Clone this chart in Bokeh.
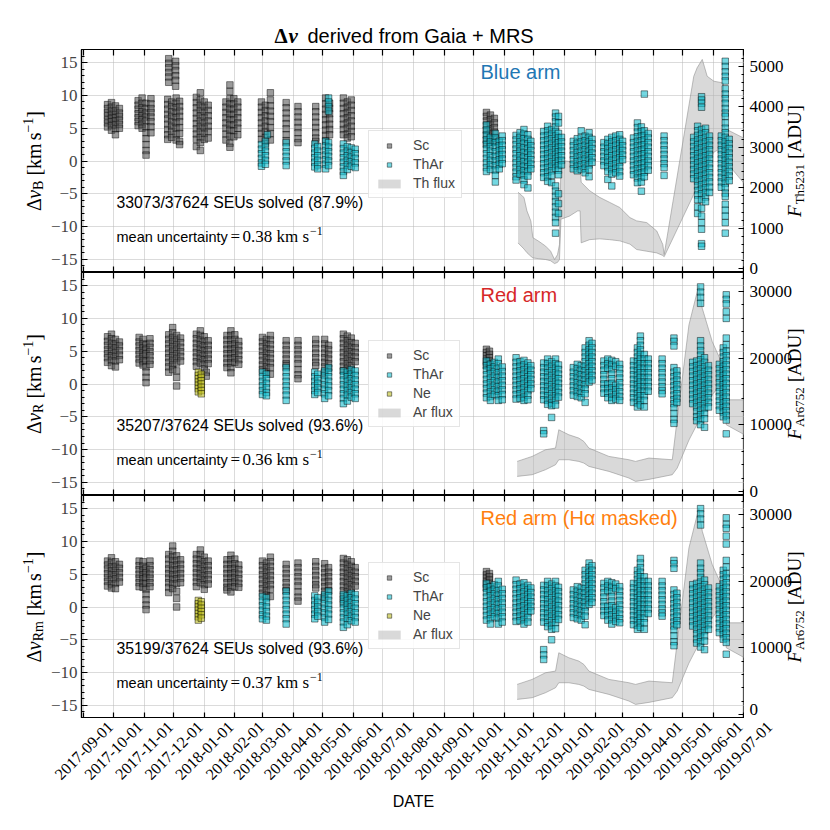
import calendar
from datetime import datetime
from math import pi
from bokeh.plotting import figure
from bokeh.layouts import column, row
from bokeh.models import Range1d, LinearAxis, FixedTicker, Label, Legend, LegendItem, Grid
from bokeh.embed import file_html
from bokeh.resources import INLINE

# ---------------- data ----------------
DAY0 = "2017-09-01"   # day offsets below are counted from this date
MONTHS = ["2017-09-01", "2017-10-01", "2017-11-01", "2017-12-01", "2018-01-01", "2018-02-01",
          "2018-03-01", "2018-04-01", "2018-05-01", "2018-06-01", "2018-07-01", "2018-08-01",
          "2018-09-01", "2018-10-01", "2018-11-01", "2018-12-01", "2019-01-01", "2019-02-01",
          "2019-03-01", "2019-04-01", "2019-05-01", "2019-06-01", "2019-07-01"]
LEFT_TICKS = [-15, -10, -5, 0, 5, 10, 15]

# ---- Blue arm ----
SC_B_DAYS = [24, 28, 32, 36, 55, 59, 63, 68, 86, 93, 85, 89, 93.5, 97, 114, 118, 122, 126,
             144, 148, 152, 156, 180, 184, 189, 205, 217, 235, 245, 249, 263, 267, 271, 408, 412, 416]
SC_B_VALS = [
    [8.6, 8.0, 7.4, 6.9, 6.3, 5.8, 5.2], [8.9, 8.2, 7.6, 7.0, 6.5, 6.0, 5.4, 4.7],
    [8.4, 7.7, 7.1, 6.6, 6.1, 5.5, 4.9, 4.0], [8.0, 7.3, 6.8, 6.2, 5.6, 5.0],
    [9.2, 8.5, 7.9, 7.2, 6.6, 6.0, 5.4], [9.6, 8.8, 8.1, 7.5, 6.9, 6.3, 5.6, 5.0],
    [8.8, 8.0, 7.3, 6.7, 6.1, 5.2, 4.3, 3.4, 2.5, 1.6, 0.9], [9.5, 8.7, 8.0, 7.4, 6.7, 6.0, 5.2, 4.3],
    [15.6, 14.9, 14.2, 13.5, 12.8, 12.0], [15.2, 14.5, 13.8, 13.0, 12.3, 11.4],
    [9.4, 8.6, 7.9, 7.1, 6.4, 5.6, 4.8, 4.0, 3.3], [9.0, 8.3, 7.5, 6.8, 6.0, 5.3, 4.5, 3.6],
    [9.6, 8.8, 8.1, 7.3, 6.6, 5.8, 5.0, 4.1, 3.2], [9.1, 8.3, 7.6, 6.8, 6.0, 5.1, 4.2, 3.0, 2.5],
    [9.7, 8.9, 8.1, 7.3, 6.5, 5.7, 4.9, 4.1, 3.3, 2.2], [10.4, 9.3, 8.5, 7.7, 6.9, 6.1, 5.3, 4.5, 3.6, 2.8, 1.6],
    [9.0, 8.2, 7.4, 6.6, 5.8, 5.0, 4.2, 3.3], [8.5, 7.7, 6.9, 6.1, 5.3, 4.5, 3.5],
    [9.0, 8.2, 7.4, 6.6, 5.8, 5.0, 4.1, 3.2], [11.6, 10.6, 9.5, 8.7, 7.9, 7.1, 6.3, 5.5, 4.7, 3.8, 2.7, 2.1],
    [9.5, 8.7, 7.9, 7.1, 6.3, 5.5, 4.6, 3.7], [9.0, 8.2, 7.4, 6.6, 5.8, 5.0, 4.0],
    [9.0, 8.2, 7.4, 6.6, 5.8, 5.0, 4.2, 3.3], [8.5, 7.7, 6.9, 6.1, 5.3, 4.5, 3.6, 2.7],
    [10.4, 9.3, 8.4, 7.6, 6.8, 6.0, 5.1, 4.2, 3.2], [8.9, 8.1, 7.3, 6.5, 5.7, 4.9, 4.0, 3.1],
    [8.3, 7.5, 6.7, 5.9, 5.1, 4.3, 3.4, 2.8], [8.3, 7.5, 6.7, 5.9, 5.1, 4.3, 3.5, 3.0],
    [9.6, 8.7, 7.9, 7.1, 6.3, 5.5, 4.7, 3.9, 3.1], [8.8, 8.0, 7.2, 6.4, 5.6, 4.8, 4.0],
    [9.6, 8.8, 8.0, 7.2, 6.4, 5.6, 4.8, 4.0], [9.0, 8.2, 7.4, 6.6, 5.8, 5.0, 4.1, 3.5],
    [9.3, 8.5, 7.7, 6.9, 6.1, 5.3, 4.5, 3.7], [7.4, 6.8, 6.1, 5.4, 4.7, 4.0, 3.2, 2.6],
    [7.0, 6.3, 5.6, 4.9, 4.2, 3.4, 2.8], [6.5, 5.8, 5.1, 4.4, 3.6, 2.9]]

TH_B_DAYS = [180, 184, 186, 205, 234, 237, 245, 248, 263, 267, 271, 275,
             408, 412, 417, 421, 424, 438, 442, 446, 450, 453,
             466, 470, 474, 478, 481, 484, 496, 500, 504, 508, 512, 515,
             527, 531, 535, 539, 543, 546, 557, 561, 565, 568, 572, 588,
             618, 622, 626, 630, 634, 646, 650, 654]
TH_B_VALS = [
    [2.5, 1.8, 1.1, 0.4, -0.3, -0.8], [3.0, 2.2, 1.5, 0.8, 0.1, -0.5], [4.0],
    [2.8, 2.1, 1.4, 0.7, 0.0, -0.7], [2.6, 1.9, 1.2, 0.5, -0.2, -0.9], [2.2, 1.5, 0.8, 0.1, -0.6, -1.2],
    [3.0, 2.3, 1.6, 0.9, 0.2, -0.5, -1.2], [9.6, 9.0, 8.3, 7.6, 2.8, 2.1, 1.4, 0.7, 0.0, -0.7],
    [2.6, 1.9, 1.2, 0.5, -0.2, -0.9, -1.6, -2.2], [2.2, 1.5, 0.8, 0.1, -0.6, -1.3],
    [2.0, 1.3, 0.6, -0.1, -0.8], [1.8, 1.1, 0.4, -0.3, -1.0],
    [5.5, 4.7, 3.9, 3.2, 2.5, 1.8, 1.1, 0.4, -0.3, -1.0, -1.6], [3.6, 2.9, 2.2, 1.5, 0.8, 0.1, -0.6, -1.3],
    [4.2, 3.5, 2.8, 2.1, 1.4, 0.7, 0.0, -0.7, -1.4, -2.2, -3.2], [3.0, 2.3, 1.6, 0.9, 0.2, -0.5, -1.2],
    [3.8, 3.1, 2.4, 1.7, 1.0, 0.3, -0.4],
    [3.9, 3.2, 2.5, 1.8, 1.1, 0.4, -0.3, -1.0, -1.7, -2.4, -2.9], [4.3, 3.6, 2.9, 2.2, 1.5, 0.8, 0.1, -0.6, -1.3, -2.0],
    [4.8, 4.1, 3.4, 2.7, 2.0, 1.3, 0.6, -0.1, -0.8, -1.5, -2.2, -2.9, -3.6],
    [4.0, 3.3, 2.6, 1.9, 1.2, 0.5, -0.2, -0.9, -1.6, -2.3, -4.1], [3.0, 2.3, 1.6, 0.9, 0.2, -0.5, -1.2],
    [4.5, 3.8, 3.1, 2.4, 1.7, 1.0, 0.3, -0.4, -1.1, -1.8, -2.5],
    [5.3, 4.6, 3.9, 3.2, 2.5, 1.8, 1.1, 0.4, -0.3, -1.0, -1.7, -2.4, -3.1],
    [4.8, 4.1, 3.4, 2.7, 2.0, 1.3, 0.6, -0.1, -0.8, -1.5, -2.2, -3.3],
    [7.3, 6.7, 6.0, 5.2, 4.5, 3.8, 3.1, 2.4, 1.7, 1.0, 0.3, -0.4, -1.1, -3.8, -4.6, -5.4, -6.2, -7.0, -7.8, -8.6, -9.4, -11.0],
    [6.8, 5.8, 4.2, 3.5, 2.8, 2.1, 1.4, 0.7, 0.0, -0.7, -1.4, -2.1, -5.0, -6.5, -8.0],
    [3.6, 2.9, 2.2, 1.5, 0.8, 0.1, -0.6],
    [3.0, 2.3, 1.6, 0.9, 0.2, -0.5, -1.2], [3.4, 2.7, 2.0, 1.3, 0.6, -0.1, -0.8, -1.5],
    [4.6, 3.6, 2.9, 2.2, 1.5, 0.8, 0.1, -0.6, -1.3], [3.8, 3.1, 2.4, 1.7, 1.0, 0.3, -0.4, -1.1, -1.8],
    [4.3, 3.6, 2.9, 2.2, 1.5, 0.8, 0.1, -0.6, -1.3, -2.4], [3.3, 2.6, 1.9, 1.2, 0.5, -0.2],
    [2.8, 2.1, 1.4, 0.7, 0.0, -0.7], [3.3, 2.6, 1.9, 1.2, 0.5, -0.2, -0.9, -1.6, -2.8],
    [3.6, 2.9, 2.2, 1.5, 0.8, 0.1, -0.6, -1.3, -2.0, -3.8], [3.8, 3.1, 2.4, 1.7, 1.0, 0.3, -0.4, -1.1, -1.8],
    [4.0, 3.3, 2.6, 1.9, 1.2, 0.5, -0.2, -0.9, -1.6, -2.3], [3.0, 2.3, 1.6, 0.9, 0.2],
    [3.5, 2.8, 2.1, 1.4, 0.7, 0.0, -0.7, -1.4, -2.1],
    [5.8, 5.1, 4.4, 3.7, 3.0, 2.3, 1.6, 0.9, 0.2, -0.5, -1.2, -1.9, -2.6, -3.3],
    [5.2, 4.5, 3.8, 3.1, 2.4, 1.7, 1.0, 0.3, -0.4, -1.1, -1.8, -2.5, -3.2, -4.6],
    [10.2, 4.6, 3.9, 3.2, 2.5, 1.8, 1.1, 0.4, -0.3, -1.0, -1.7, -2.4],
    [4.2, 3.5, 2.8, 2.1, 1.4, 0.7, 0.0, -0.7, -1.4], [3.8, 3.1, 2.4, 1.7, 1.0, 0.3, -0.4, -1.0, -2.2],
    [3.6, 2.9, 2.2, 1.5, 0.8, 0.1, -0.6, -1.3, -2.0, -2.7],
    [5.3, 4.6, 3.9, 3.2, 2.5, 1.8, 1.1, 0.4, -0.3, -1.0, -1.7, -2.4, -3.1, -3.8, -4.5, -5.2, -5.9, -7.0, -8.0],
    [9.8, 9.3, 8.8, 8.2, 4.8, 4.1, 3.4, 2.7, 2.0, 1.3, 0.6, -0.1, -0.8, -1.5, -2.2, -2.9, -3.6, -4.3, -5.0, -5.9,
     -7.2, -8.4, -9.4, -10.4, -12.6, -13.0],
    [5.0, 4.3, 3.6, 2.9, 2.2, 1.5, 0.8, 0.1, -0.6, -1.3, -2.0, -2.7, -3.4, -4.1, -4.8, -5.5, -6.2],
    [3.8, 3.1, 2.4, 1.7, 1.0, 0.3, -0.4, -1.1, -1.8, -2.5, -3.2, -4.0, -4.8],
    [3.8, 3.1, 2.4, 1.7, 1.0, 0.3, -0.4, -1.1, -1.8, -2.5, -3.2, -4.0],
    [15.2, 14.4, 13.6, 12.9, 12.2, 11.0, 10.2, 9.5, 8.8, 8.0, 7.3, 6.8, 5.8, 5.0, 4.3, 3.6, 2.9, 2.2, 1.5, 0.8,
     0.1, -0.6, -1.3, -2.0, -2.7, -3.4, -4.1, -4.9, -5.4, -6.6, -7.5, -8.4, -9.4, -11.0],
    [3.3, 2.6, 1.9, 1.2, 0.5, -0.2, -0.9, -1.6, -2.3, -3.0]]

# Th flux band (ADU), min / max envelope
TH_FLUX_DAYS = [440, 446, 449, 453, 455, 461, 468, 473, 477, 480, 482, 483.5, 492, 500.5, 502.9, 504,
                512.5, 522.7, 532.9, 543.1, 553.4, 560.2, 570.4, 580.6, 586.7, 588.1, 618.1, 621.5,
                626.7, 631.7, 638.5, 648.1, 649.4, 669.5]
TH_FLUX_HI = [1890, 1760, 1430, 1180, 770, 680, 560, 435, 230, 350, 600, 2676, 2650, 2550, 2500, 2136,
              1928, 1763, 1639, 1513, 1264, 1183, 1141, 933, 600, 353, 4750, 4958, 5165, 4750, 4627,
              4585, 3464, 3215]
TH_FLUX_LO = [640, 490, 400, 310, 270, 250, 230, 200, 130, 160, 230, 1225, 1300, 1430, 1430, 642,
              720, 740, 720, 690, 610, 477, 435, 393, 330, 300, 1837, 2010, 2280, 2535, 2880, 3000,
              2676, 2094]

# ---- Red arm ----
SC_R_DAYS = [24, 28, 32, 36, 56, 60, 63, 67, 86, 90, 94, 98, 114, 118, 122, 126, 124,
             145, 149, 153, 157, 181, 185, 189, 205, 217, 235, 244, 248, 263, 267, 271, 275, 408, 411]
SC_R_VALS = [
    [7.2, 6.5, 5.9, 5.2, 4.6, 4.0, 3.3], [7.6, 6.9, 6.2, 5.6, 5.0, 4.3, 3.6, 2.8],
    [6.8, 6.1, 5.5, 4.8, 4.2, 3.5, 2.6], [6.4, 5.8, 5.1, 4.4, 3.7],
    [7.1, 6.4, 5.8, 5.1, 4.5, 3.8, 3.2], [6.8, 6.1, 5.5, 4.8, 4.2, 3.5, 2.9],
    [6.0, 5.3, 4.6, 3.5, 2.6, 1.8, 1.0, 0.2], [6.9, 6.2, 5.6, 4.9, 4.3, 3.6, 3.0],
    [7.5, 6.8, 6.1, 5.4, 4.7, 4.0, 3.3, 2.6, 1.8], [8.6, 7.8, 7.1, 6.4, 5.7, 5.0, 4.3, 3.6, 2.9, 2.2],
    [7.4, 6.7, 6.0, 5.3, 4.6, 3.9, 3.2, 2.0, 1.0, -0.3], [7.0, 6.3, 5.6, 4.9, 4.2, 3.5],
    [7.6, 6.9, 6.2, 5.5, 4.8, 4.1, 3.4, 2.7], [8.1, 7.4, 6.7, 6.0, 5.3, 4.6, 3.9, 3.2],
    [7.2, 6.5, 5.8, 5.1, 4.4, 3.7, 3.0, 2.3], [6.6, 5.9, 5.2, 4.5, 3.8, 3.1], [1.8, 1.2],
    [7.4, 6.7, 6.0, 5.3, 4.6, 3.9, 3.2, 2.5], [8.1, 7.4, 6.7, 6.0, 5.3, 4.6, 3.9, 3.2, 2.5, 1.7],
    [7.5, 6.8, 6.1, 5.4, 4.7, 4.0, 3.3], [6.5, 5.8, 5.1, 4.4, 3.7, 3.0],
    [7.1, 6.4, 5.7, 5.0, 4.3, 3.6, 2.9, 2.2], [6.8, 6.1, 5.4, 4.7, 4.0, 3.3, 2.6, 1.9],
    [7.4, 6.7, 6.0, 5.3, 4.6, 3.9, 3.2, 2.5, 1.5], [6.6, 5.9, 5.2, 4.5, 3.8, 3.1, 2.8],
    [6.6, 5.9, 5.2, 4.5, 3.8, 3.1, 2.2, 1.4, 0.8], [6.8, 6.1, 5.4, 4.7, 4.0, 3.3, 2.8],
    [6.8, 6.1, 5.4, 4.7, 4.0, 3.3, 2.6, 1.8], [5.9, 5.2, 4.5, 3.8, 3.1, 2.4],
    [7.6, 6.9, 6.2, 5.5, 4.8, 4.1, 3.4, 2.7, 2.0], [7.3, 6.6, 5.9, 5.2, 4.5, 3.8, 3.1, 2.4, 1.5],
    [7.0, 6.3, 5.6, 4.9, 4.2, 3.5, 2.8, 2.1], [6.2, 5.5, 4.8, 4.1, 3.4],
    [5.3, 4.8, 4.3, 3.8, 3.3, 2.8], [5.0, 4.5, 4.0, 3.5, 3.0, 2.5]]
NE_R_DAYS = [116, 119]
NE_R_VALS = [[1.8, 1.3, 0.8, 0.3, -0.2, -0.7, -1.2], [1.5, 1.0, 0.5, 0.0, -0.5, -1.0, -1.5]]
TH_R_DAYS = [181, 185, 205, 234, 237, 244, 248, 263, 267, 271, 275,
             408, 412, 416, 420, 424, 438, 442, 446, 450, 453, 466, 470, 474, 478, 481,
             496, 500, 504, 508, 512, 515, 527, 531, 535, 539, 543, 557, 561, 564, 568, 572, 586,
             598, 601, 617, 621, 625, 629, 633, 644, 648, 651]
TH_R_VALS = [
    [1.8, 1.1, 0.4, -0.3, -1.0, -1.6], [1.5, 0.8, 0.1, -0.6, -1.3, -1.8],
    [2.5, 1.8, 1.1, 0.4, -0.3, -1.0, -1.7, -2.5], [1.8, 1.1, 0.4, -0.3, -1.0, -1.6],
    [1.5, 0.8, 0.1, -0.6, -1.3], [2.0, 1.3, 0.6, -0.1, -0.8, -1.5, -2.2],
    [2.5, 1.8, 1.1, 0.4, -0.3, -1.0, -1.8], [2.0, 1.3, 0.6, -0.1, -0.8, -1.5, -2.2, -3.0],
    [1.8, 1.1, 0.4, -0.3, -1.0, -1.7, -2.6], [2.2, 1.5, 0.8, 0.1, -0.6, -1.3, -2.0],
    [2.0, 1.3, 0.6, -0.1, -0.8, -1.5, -2.2],
    [3.5, 2.8, 2.1, 1.4, 0.7, 0.0, -0.7, -1.4, -2.1], [3.0, 2.3, 1.6, 0.9, 0.2, -0.5, -1.2, -1.9, -2.5],
    [3.3, 2.6, 1.9, 1.2, 0.5, -0.2, -0.9, -1.6], [3.8, 3.1, 2.4, 1.7, 1.0, 0.3, -0.4, -1.1, -1.8, -2.5],
    [2.6, 1.9, 1.2, 0.5, -0.2, -0.9, -1.6, -2.4],
    [4.0, 3.3, 2.6, 1.9, 1.2, 0.5, -0.2, -0.9, -1.6, -2.3], [3.4, 2.7, 2.0, 1.3, 0.6, -0.1, -0.8, -1.5, -2.2],
    [3.6, 2.9, 2.2, 1.5, 0.8, 0.1, -0.6, -1.3, -2.0, -2.5], [3.2, 2.5, 1.8, 1.1, 0.4, -0.3, -1.0, -1.7, -2.4],
    [2.8, 2.1, 1.4, 0.7, 0.0, -0.7],
    [3.2, 2.5, 1.8, 1.1, 0.4, -0.3, -1.0, -1.7, -2.4, -7.1, -7.6],
    [3.8, 3.1, 2.4, 1.7, 1.0, 0.3, -0.4, -1.1, -1.8, -2.5, -3.1],
    [3.4, 2.7, 2.0, 1.3, 0.6, -0.1, -0.8, -1.5, -2.2, -2.9, -3.3, -5.1],
    [3.8, 3.1, 2.4, 1.7, 1.0, 0.3, -0.4, -1.1, -1.8, -2.5, -3.2], [2.9, 2.2, 1.5, 0.8, 0.1, -0.6, -1.3, -2.0],
    [2.5, 1.8, 1.1, 0.4, -0.3, -1.0, -1.7], [3.0, 2.3, 1.6, 0.9, 0.2, -0.5, -1.2, -1.9],
    [2.8, 2.1, 1.4, 0.7, 0.0, -0.7, -1.4, -2.1], [5.5, 4.8, 4.1, 3.4, 2.7, 2.0, 1.3, 0.6, -0.1, -0.8, -1.5, -2.8],
    [6.6, 5.9, 5.2, 4.5, 3.8, 3.1, 2.4, 1.7, 1.0, 0.3], [6.2, 5.5, 4.8, 4.1, 3.4, 2.7, 2.0, 1.3, 0.6],
    [3.5, 2.8, 2.1, 1.4, 0.7, 0.0, -0.7, -1.4], [3.8, 3.1, 2.4, 0.0, -0.7, -1.4, -2.1],
    [3.6, 2.9, 2.2, 1.5, 0.8, 0.1, -0.6, -1.3, -2.0, -2.5], [3.4, 2.7, -0.2, -0.9, -1.6, -2.3],
    [3.0, 2.3, 1.6, 0.9, 0.2, -0.5, -1.2, -1.9, -2.5],
    [3.5, 2.8, 2.1, 1.4, 0.7, 0.0, -0.7, -1.4, -2.1, -2.8],
    [5.5, 4.8, 4.1, 3.4, 2.7, 2.0, 1.3, 0.6, -0.1, -0.8, -1.5, -2.2, -2.9, -3.5],
    [7.3, 6.6, 5.9, 5.2, 4.5, 3.8, 3.1, 2.4, 1.7, 1.0, 0.3, -0.4, -1.1, -1.8, -2.5, -3.2],
    [4.5, 3.8, 3.1, 2.4, 1.7, 1.0, 0.3, -0.4, -1.1, -1.8, -2.5, -3.5], [3.8, 3.1, 2.4, 1.7, 1.0, 0.3, -0.4, -1.1],
    [3.8, 3.1, 2.4, 1.7, 1.0, 0.3, -0.4, -1.0, -1.5],
    [7.0, 6.5, 5.8, 2.5, 1.8, 1.1, 0.4, -0.3, -1.0, -1.7, -2.4, -3.0, -3.6, -4.5, -5.4, -6.0],
    [2.0, 1.3, 0.6, -0.1, -0.8, -1.5, -2.2, -2.8],
    [3.3, 2.6, 1.9, 1.2, 0.5, -0.2, -0.9, -1.6, -2.3, -3.0],
    [3.5, 2.8, 2.1, 1.4, 0.7, 0.0, -0.7, -1.4, -2.1, -2.8, -3.5, -4.2, -5.0, -5.6],
    [14.8, 14.0, 13.2, 12.3, 6.6, 5.8, 5.1, 4.4, 3.7, 3.0, 2.3, 1.6, 0.9, 0.2, -0.5, -1.2, -1.9, -2.6, -3.3,
     -4.0, -4.7, -5.4, -6.2],
    [4.0, 3.3, 2.6, 1.9, 1.2, 0.5, -0.2, -0.9, -1.6, -2.3, -3.0, -3.7, -4.5, -5.3, -6.6],
    [2.8, 2.1, 1.4, 0.7, 0.0, -0.7, -1.4, -2.1, -2.8, -3.5],
    [3.0, 2.3, 1.6, 0.9, 0.2, -0.5, -1.2, -1.9, -2.6, -3.3, -4.0],
    [5.5, 4.8, 4.1, 3.4, 2.7, 2.0, 1.3, 0.6, -0.1, -0.8, -1.5, -2.2, -2.9, -3.6, -4.3, -5.0],
    [13.6, 12.9, 12.2, 11.0, 10.0, 7.0, 6.0, 5.0, 4.3, 3.6, 2.9, 2.2, 1.5, 0.8, 0.1, -0.6, -1.3, -2.0, -2.7,
     -3.4, -4.1, -4.8, -5.5, -7.6]]

# Ar flux band (ADU), min / max envelope
AR_FLUX_DAYS = [439.1, 454.3, 467.8, 478.0, 481.3, 491.5, 501.6, 506.7, 511.8, 532.1, 552.4, 559.1,
                572.6, 596.3, 601.3, 613.2, 623.3, 626.7, 636.8, 650.4, 651.0, 669.5]
AR_FLUX_HI = [4500, 5250, 6250, 6500, 9250, 8500, 8000, 7500, 6500, 5250, 4750, 4500,
              5000, 4750, 10850, 25000, 31000, 27500, 22500, 18000, 13750, 13750]
AR_FLUX_LO = [2250, 2500, 3250, 4000, 4750, 4750, 4500, 4250, 3750, 3000, 2000, 1500,
              1800, 2500, 3500, 7700, 10600, 11600, 14500, 17000, 10000, 8500]

# ---- Red arm, H-alpha masked ----
SC_RM_DAYS = SC_R_DAYS[:16] + [145, 149, 153, 157, 181, 185, 189, 205, 217, 235, 244, 248,
                               263, 267, 271, 275, 408, 411]
SC_RM_VALS = [
    [7.0, 6.4, 5.8, 5.1, 4.5, 3.9, 3.2], [7.5, 6.8, 6.1, 5.5, 4.9, 4.2, 3.5, 2.9],
    [6.9, 6.2, 5.6, 4.9, 4.3, 3.6, 2.8], [6.5, 5.9, 5.2, 4.5, 3.8],
    [7.0, 6.3, 5.7, 5.0, 4.4, 3.7, 3.1], [6.9, 6.2, 5.6, 4.9, 4.3, 3.6, 3.0],
    [5.9, 5.2, 4.5, 3.6, 2.7, 1.9, 1.1, 0.3, -0.4], [7.0, 6.3, 5.7, 5.0, 4.4, 3.7, 3.1],
    [8.0, 7.3, 6.5, 5.8, 5.1, 4.4, 3.7, 3.0, 2.2], [9.3, 8.5, 7.7, 7.0, 6.3, 5.6, 4.9, 4.2, 3.5, 2.8],
    [7.8, 7.1, 6.4, 5.7, 5.0, 4.3, 3.6, 2.4, 1.3, 0.0], [7.2, 6.5, 5.8, 5.1, 4.4, 3.7],
    [8.0, 7.3, 6.6, 5.9, 5.2, 4.5, 3.8, 3.1], [8.7, 8.0, 7.2, 6.5, 5.8, 5.1, 4.4, 3.7],
    [7.6, 6.9, 6.2, 5.5, 4.8, 4.1, 3.4, 2.7], [7.0, 6.3, 5.6, 4.9, 4.2, 3.5],
    [7.2, 6.5, 5.8, 5.1, 4.4, 3.7, 3.0, 2.6], [7.9, 7.2, 6.5, 5.8, 5.1, 4.4, 3.7, 3.0, 2.3],
    [7.3, 6.6, 5.9, 5.2, 4.5, 3.8, 3.1], [6.4, 5.7, 5.0, 4.3, 3.6, 3.0],
    [7.0, 6.3, 5.6, 4.9, 4.2, 3.5, 2.8, 2.1], [6.7, 6.0, 5.3, 4.6, 3.9, 3.2, 2.5, 1.8],
    [7.6, 6.9, 6.2, 5.5, 4.8, 4.1, 3.4, 2.7, 1.6], [6.5, 5.8, 5.1, 4.4, 3.7, 3.0, 2.5],
    [6.7, 6.0, 5.3, 4.6, 3.9, 3.2, 2.3, 1.5, 0.9], [6.9, 6.2, 5.5, 4.8, 4.1, 3.4, 2.9],
    [6.6, 5.9, 5.2, 4.5, 3.8, 3.1, 2.4, 1.6], [6.0, 5.3, 4.6, 3.9, 3.2, 2.5],
    [7.4, 6.7, 6.0, 5.3, 4.6, 3.9, 3.2, 2.5, 1.6, 0.8], [7.2, 6.5, 5.8, 5.1, 4.4, 3.7, 3.0, 2.3, 1.4, 0.2],
    [6.9, 6.2, 5.5, 4.8, 4.1, 3.4, 2.7, 2.0], [6.0, 5.3, 4.6, 3.9, 3.2],
    [5.4, 4.9, 4.4, 3.9, 3.4, 2.9], [5.1, 4.6, 4.1, 3.6, 3.1, 2.6]]
NE_RM_DAYS = [116, 119]
NE_RM_VALS = [[1.0, 0.5, 0.0, -0.5, -1.0, -1.5, -2.0], [0.8, 0.3, -0.2, -0.7, -1.2, -1.7]]
TH_RM_DAYS = TH_R_DAYS
TH_RM_VALS = [
    [1.6, 0.9, 0.2, -0.5, -1.2, -1.8], [1.4, 0.7, 0.0, -0.7, -1.4, -2.0],
    [2.4, 1.7, 1.0, 0.3, -0.4, -1.1, -1.8, -2.6], [1.7, 1.0, 0.3, -0.4, -1.1, -1.8],
    [1.4, 0.7, 0.0, -0.7, -1.4], [1.9, 1.2, 0.5, -0.2, -0.9, -1.6, -2.3],
    [2.4, 1.7, 1.0, 0.3, -0.4, -1.1, -1.9], [1.9, 1.2, 0.5, -0.2, -0.9, -1.6, -2.3, -3.1],
    [1.7, 1.0, 0.3, -0.4, -1.1, -1.8, -2.7], [2.1, 1.4, 0.7, 0.0, -0.7, -1.4, -2.1],
    [1.9, 1.2, 0.5, -0.2, -0.9, -1.6, -2.3],
    [3.6, 2.9, 2.2, 1.5, 0.8, 0.1, -0.6, -1.3, -2.0], [3.1, 2.4, 1.7, 1.0, 0.3, -0.4, -1.1, -1.8, -2.6],
    [3.4, 2.7, 2.0, 1.3, 0.6, -0.1, -0.8, -1.5], [3.9, 3.2, 2.5, 1.8, 1.1, 0.4, -0.3, -1.0, -1.7, -2.6],
    [2.7, 2.0, 1.3, 0.6, -0.1, -0.8, -1.5, -2.3],
    [4.1, 3.4, 2.7, 2.0, 1.3, 0.6, -0.1, -0.8, -1.5, -2.2], [3.5, 2.8, 2.1, 1.4, 0.7, 0.0, -0.7, -1.4, -2.1],
    [3.7, 3.0, 2.3, 1.6, 0.9, 0.2, -0.5, -1.2, -1.9, -2.6], [3.3, 2.6, 1.9, 1.2, 0.5, -0.2, -0.9, -1.6, -2.3],
    [2.9, 2.2, 1.5, 0.8, 0.1, -0.6],
    [3.3, 2.6, 1.9, 1.2, 0.5, -0.2, -0.9, -1.6, -2.3, -6.5, -7.3, -8.0],
    [3.9, 3.2, 2.5, 1.8, 1.1, 0.4, -0.3, -1.0, -1.7, -2.4, -3.0],
    [3.5, 2.8, 2.1, 1.4, 0.7, 0.0, -0.7, -1.4, -2.1, -2.8, -3.4, -5.0],
    [3.9, 3.2, 2.5, 1.8, 1.1, 0.4, -0.3, -1.0, -1.7, -2.4, -3.3], [3.0, 2.3, 1.6, 0.9, 0.2, -0.5, -1.2, -1.9],
    [2.6, 1.9, 1.2, 0.5, -0.2, -0.9, -1.6], [3.1, 2.4, 1.7, 1.0, 0.3, -0.4, -1.1, -1.8],
    [2.9, 2.2, 1.5, 0.8, 0.1, -0.6, -1.3, -2.0], [5.6, 4.9, 4.2, 3.5, 2.8, 2.1, 1.4, 0.7, 0.0, -0.7, -1.4, -2.7],
    [6.7, 6.0, 5.3, 4.6, 3.9, 3.2, 2.5, 1.8, 1.1, 0.4], [6.3, 5.6, 4.9, 4.2, 3.5, 2.8, 2.1, 1.4, 0.7],
    [3.6, 2.9, 2.2, 1.5, 0.8, 0.1, -0.6, -1.3], [3.9, 3.2, 2.5, 0.1, -0.6, -1.3, -2.0],
    [3.7, 3.0, 2.3, 1.6, 0.9, 0.2, -0.5, -1.2, -1.9, -2.6], [3.5, 2.8, -0.1, -0.8, -1.5, -2.2],
    [3.1, 2.4, 1.7, 1.0, 0.3, -0.4, -1.1, -1.8, -2.4],
    [3.6, 2.9, 2.2, 1.5, 0.8, 0.1, -0.6, -1.3, -2.0, -2.7],
    [5.6, 4.9, 4.2, 3.5, 2.8, 2.1, 1.4, 0.7, 0.0, -0.7, -1.4, -2.1, -2.8, -3.4],
    [7.4, 6.7, 6.0, 5.3, 4.6, 3.9, 3.2, 2.5, 1.8, 1.1, 0.4, -0.3, -1.0, -1.7, -2.4, -3.1],
    [4.6, 3.9, 3.2, 2.5, 1.8, 1.1, 0.4, -0.3, -1.0, -1.7, -2.4, -3.4], [3.9, 3.2, 2.5, 1.8, 1.1, 0.4, -0.3, -1.0],
    [3.9, 3.2, 2.5, 1.8, 1.1, 0.4, -0.3, -0.9, -1.4],
    [7.1, 6.6, 5.9, 2.6, 1.9, 1.2, 0.5, -0.2, -0.9, -1.6, -2.3, -2.9, -3.5, -4.4, -5.3, -5.9],
    [2.1, 1.4, 0.7, 0.0, -0.7, -1.4, -2.1, -2.7],
    [3.4, 2.7, 2.0, 1.3, 0.6, -0.1, -0.8, -1.5, -2.2, -2.9],
    [3.6, 2.9, 2.2, 1.5, 0.8, 0.1, -0.6, -1.3, -2.0, -2.7, -3.4, -4.1, -4.9, -5.5],
    [15.0, 14.2, 13.4, 12.5, 6.7, 5.9, 5.2, 4.5, 3.8, 3.1, 2.4, 1.7, 1.0, 0.3, -0.4, -1.1, -1.8, -2.5, -3.2,
     -3.9, -4.6, -5.3, -6.1],
    [4.1, 3.4, 2.7, 2.0, 1.3, 0.6, -0.1, -0.8, -1.5, -2.2, -2.9, -3.6, -4.4, -5.2, -6.5],
    [2.9, 2.2, 1.5, 0.8, 0.1, -0.6, -1.3, -2.0, -2.7, -3.4],
    [3.1, 2.4, 1.7, 1.0, 0.3, -0.4, -1.1, -1.8, -2.5, -3.2, -3.9],
    [5.6, 4.9, 4.2, 3.5, 2.8, 2.1, 1.4, 0.7, 0.0, -0.7, -1.4, -2.1, -2.8, -3.5, -4.2, -4.9],
    [13.6, 12.6, 12.0, 10.8, 9.6, 7.1, 6.1, 5.1, 4.4, 3.7, 3.0, 2.3, 1.6, 0.9, 0.2, -0.5, -1.2, -1.9, -2.6,
     -3.3, -4.0, -4.7, -5.4, -7.2]]

# ---------------- helpers ----------------
def ms(s):
    return calendar.timegm(datetime.strptime(s, "%Y-%m-%d").timetuple()) * 1000.0

D0 = ms(DAY0)
DAY = 86400000.0

def dx(d):
    return D0 + d * DAY

def expand(days, vals):
    xs, ys = [], []
    for d, col in zip(days, vals):
        for v in col:
            xs.append(dx(d))
            ys.append(v)
    return xs, ys

MONTH_MS = [ms(m) for m in MONTHS]
FRAME_W, FRAME_H = 663, 223
LAB_L, BORDER_L, RIGHT_W = 46, 35, 74
TOTAL_W = LAB_L + BORDER_L + FRAME_W + RIGHT_W
TOP_H, BOT_H = 49, 100
XR = Range1d(dx(-2.4), dx(669.5))
MPP = (XR.end - XR.start) / FRAME_W

SERIF = "Liberation Serif"
SANS = "Liberation Sans"
TIMES_W = {" ": .25, "[": .333, "]": .333, "k": .5, "m": .778, "s": .389, "−": .564, "1": .5,
           "B": .667, "R": .667, "Δ": .612, "v": .444, "T": .611, "h": .5, "A": .722, "D": .722,
           "U": .722, "F": .611, "r": .333, ".": .25}

def tw(s, size):
    return sum(TIMES_W.get(c, .5) for c in s) * size

def slabel(p, x, y, text, font=SANS, size=15, color="black", style="normal", align="left",
           baseline="middle", angle=0.0, xu="screen"):
    p.add_layout(Label(x=x, y=y, x_units=xu, y_units="screen", text=text, text_font=font,
                       text_font_size=f"{size}px", text_color=color, text_font_style=style,
                       text_align=align, text_baseline=baseline, angle=angle))

def deco(width, height, xr=None):
    p = figure(width=width, height=height, frame_width=width, frame_height=height,
               x_range=xr if xr is not None else Range1d(0, width), y_range=Range1d(0, height),
               x_axis_type=None, y_axis_type=None, min_border=0, output_backend="svg",
               toolbar_location=None, outline_line_color=None,
               background_fill_color="white", border_fill_color="white")
    return p

def vlabel(p, x, parts, center):
    total = sum(tw(t, sz) + pad for t, sz, sh, st, pad in parts)
    y = center - total / 2
    for t, sz, sh, st, pad in parts:
        p.add_layout(Label(x=x + sh, y=y, x_units="screen", y_units="screen", text=t, angle=pi / 2,
                           text_font=SERIF, text_font_size=f"{sz}px", text_font_style=st,
                           text_baseline="middle", text_align="left", text_color="black"))
        y += tw(t, sz) + pad

def make_panel(flux_range, flux_ticks, flux_minor):
    p = figure(x_range=XR, y_range=Range1d(-17, 17), x_axis_type=None, y_axis_type=None,
               frame_width=FRAME_W, frame_height=FRAME_H, min_border_left=BORDER_L,
               min_border_right=0, min_border_top=0, min_border_bottom=0,
               output_backend="svg", toolbar_location=None,
               background_fill_color="white", border_fill_color="white")
    p.outline_line_color = "black"
    p.outline_line_width = 1.2
    p.extra_y_ranges = {"flux": Range1d(*flux_range)}
    xt = FixedTicker(ticks=MONTH_MS)
    yt = FixedTicker(ticks=LEFT_TICKS, minor_ticks=list(range(-17, 18)))
    common = dict(major_tick_in=6, major_tick_out=0, minor_tick_in=3, minor_tick_out=0,
                  axis_line_color="black", axis_line_width=1.2, major_tick_line_width=1.2,
                  major_label_text_font=SERIF)
    left = LinearAxis(ticker=yt, major_label_overrides={-15: "−15", -10: "−10", -5: "−5"},
                      major_label_text_font_size="17px", major_label_standoff=4, **common)
    # right axis: ticks only, its labels are written in the right-hand column
    right = LinearAxis(y_range_name="flux", ticker=FixedTicker(ticks=flux_ticks, minor_ticks=flux_minor),
                       major_label_text_font_size="0px", major_label_text_color=None,
                       major_label_text_alpha=0, major_label_standoff=0, **common)
    p.add_layout(left, "left")
    p.add_layout(right, "right")
    for side in ("above", "below"):
        ax = LinearAxis(ticker=xt, major_tick_in=6, major_tick_out=0, minor_tick_line_color=None,
                        major_label_text_font_size="0px", major_label_text_color=None,
                        major_label_text_alpha=0, major_label_standoff=0,
                        axis_line_color="black", major_tick_line_width=1.2)
        p.add_layout(ax, side)
    p.add_layout(Grid(dimension=0, ticker=xt, grid_line_color="#b8b8b8", grid_line_alpha=0.5))
    p.add_layout(Grid(dimension=1, ticker=yt, grid_line_color="#b8b8b8", grid_line_alpha=0.5))
    return p

def band(p, days, lo, hi):
    xs = [dx(d) for d in days]
    r = p.varea(x=xs, y1=lo, y2=hi, y_range_name="flux", fill_color="#b4b4b4", fill_alpha=0.5)
    p.line(xs, hi, y_range_name="flux", line_color="#8c8c8c", line_alpha=0.7, line_width=0.8)
    p.line(xs, lo, y_range_name="flux", line_color="#8c8c8c", line_alpha=0.7, line_width=0.8)
    return r

def pts(p, days, vals, color):
    xs, ys = expand(days, vals)
    return p.scatter(xs, ys, marker="square", size=6.5, fill_color=color, fill_alpha=0.6,
                     line_color="#000000", line_alpha=0.65, line_width=0.7)

def legend(p, items, loc):
    lg = Legend(items=[LegendItem(label=l, renderers=[r]) for l, r in items], location=loc,
                label_text_font=SANS, label_text_font_size="14px", glyph_width=28, glyph_height=11,
                label_height=16, spacing=3, padding=6, margin=0, label_standoff=10,
                border_line_color="#cccccc", border_line_width=1, background_fill_alpha=0.85)
    p.add_layout(lg)

def texts(p, arm, color, solved, unc):
    slabel(p, 399, 201, arm, size=20, color=color)
    slabel(p, 35, 70, solved, size=15.8)
    slabel(p, 35, 36, "mean uncertainty", size=14.5)
    slabel(p, 149, 36, "=", font=SERIF, size=17)
    slabel(p, 161, 36, unc, font=SERIF, size=17)
    slabel(p, 161 + tw(unc, 17) + 1, 42, "−1", font=SERIF, size=12)

# ---------------- panels ----------------
TH_TICKS = [0, 1000, 2000, 3000, 4000, 5000]
TH_MINOR = list(range(0, 5401, 200))
AR_TICKS = [0, 10000, 20000, 30000]
AR_MINOR = list(range(0, 32001, 2000))
TH_RANGE = (-90, 5410)
AR_RANGE = (-620, 32870)

p1 = make_panel(TH_RANGE, TH_TICKS, TH_MINOR)
rb = band(p1, TH_FLUX_DAYS, TH_FLUX_LO, TH_FLUX_HI)
rs = pts(p1, SC_B_DAYS, SC_B_VALS, "#595959")
rt = pts(p1, TH_B_DAYS, TH_B_VALS, "#17becf")
legend(p1, [("Sc", rs), ("ThAr", rt), ("Th flux", rb)], (287, 74))
texts(p1, "Blue arm", "#1f77b4", "33073/37624 SEUs solved (87.9%)", "0.38 km s")

p2 = make_panel(AR_RANGE, AR_TICKS, AR_MINOR)
rb2 = band(p2, AR_FLUX_DAYS, AR_FLUX_LO, AR_FLUX_HI)
rs2 = pts(p2, SC_R_DAYS, SC_R_VALS, "#595959")
rt2 = pts(p2, TH_R_DAYS, TH_R_VALS, "#17becf")
rn2 = pts(p2, NE_R_DAYS, NE_R_VALS, "#bcbd22")
legend(p2, [("Sc", rs2), ("ThAr", rt2), ("Ne", rn2), ("Ar flux", rb2)], (287, 68))
texts(p2, "Red arm", "#d62728", "35207/37624 SEUs solved (93.6%)", "0.36 km s")

p3 = make_panel(AR_RANGE, AR_TICKS, AR_MINOR)
rb3 = band(p3, AR_FLUX_DAYS, AR_FLUX_LO, AR_FLUX_HI)
rs3 = pts(p3, SC_RM_DAYS, SC_RM_VALS, "#595959")
rt3 = pts(p3, TH_RM_DAYS, TH_RM_VALS, "#17becf")
rn3 = pts(p3, NE_RM_DAYS, NE_RM_VALS, "#bcbd22")
legend(p3, [("Sc", rs3), ("ThAr", rt3), ("Ne", rn3), ("Ar flux", rb3)], (287, 69))
texts(p3, "Red arm (Hα masked)", "#ff7f0e", "35199/37624 SEUs solved (93.6%)", "0.37 km s")

# left column: y-axis titles
left_col = deco(LAB_L, 3 * FRAME_H)
for i, sub in enumerate(["B", "R", "Rm"]):
    base = (2 - i) * FRAME_H
    vlabel(left_col, 33.5, [("Δ", 20, 0, "normal", 0), ("v", 20, 0, "italic", 0), (sub, 14, 4.7, "normal", 5),
                            ("[km", 20, 0, "normal", 3), ("s", 20, 0, "normal", 0), ("−1", 14, -6.5, "normal", 0),
                            ("]", 20, 0, "normal", 0)], center=base + FRAME_H / 2)

# right column: flux tick labels and flux axis titles
right_col = deco(RIGHT_W, 3 * FRAME_H)
for i, (rng, ticks, sub) in enumerate([(TH_RANGE, TH_TICKS, "Th5231"), (AR_RANGE, AR_TICKS, "Ar6752"),
                                       (AR_RANGE, AR_TICKS, "Ar6752")]):
    base = (2 - i) * FRAME_H
    lo, hi = rng
    for t in ticks:
        ty = max(base + (t - lo) / (hi - lo) * FRAME_H, 9)
        slabel(right_col, 5, ty, str(t), font=SERIF, size=17)
    vlabel(right_col, 50, [("F", 19, 0, "italic", 1), (sub, 13, 4.7, "normal", 5), ("[ADU]", 19, 0, "normal", 0)],
           center=base + FRAME_H / 2)

# title row
top = deco(TOTAL_W, TOP_H)
slabel(top, 274, 14, "Δ", font=SERIF, size=21, style="bold")
slabel(top, 288, 14, "v", font=SERIF, size=21, style="bold italic")
slabel(top, 307, 14, "derived from Gaia + MRS", size=20)

# date labels row (x range aligned with the panels)
x0 = XR.start - (LAB_L + BORDER_L) * MPP
bot = deco(TOTAL_W, BOT_H, xr=Range1d(x0, x0 + TOTAL_W * MPP))
for m, mm in zip(MONTHS, MONTH_MS):
    slabel(bot, mm, 68, m, font=SERIF, size=16, align="center", angle=pi / 4, xu="data")
slabel(bot, LAB_L + BORDER_L + 332, 17, "DATE", size=16, align="center")

layout = column(top, row(left_col, column(p1, p2, p3), right_col), bot)
open("out.html", "w").write(file_html(layout, INLINE))
